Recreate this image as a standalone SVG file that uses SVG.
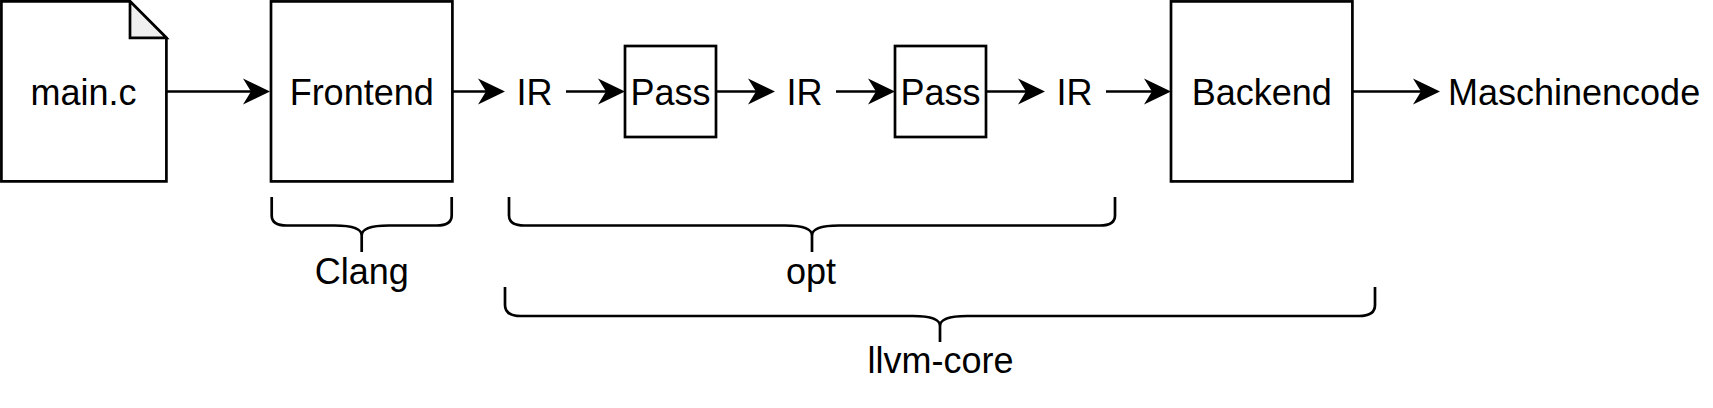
<svg xmlns="http://www.w3.org/2000/svg" width="1713" height="408" viewBox="0 0 1713 408">
  <style>
    .box { fill: #ffffff; stroke: #000000; stroke-width: 2.7; }
    .fold { fill: #efefef; stroke: #000000; stroke-width: 2.7; stroke-linejoin: miter; }
    .lbl { font-family: "Liberation Sans", Arial, sans-serif; font-size: 36px; fill: #000000; text-anchor: middle; }
    .edge { fill: none; stroke: #000000; stroke-width: 2.7; marker-end: url(#arrow); }
    .brace { fill: none; stroke: #000000; stroke-width: 2.7; }
  </style>
  <defs>
    <marker id="arrow" markerUnits="userSpaceOnUse" markerWidth="30" markerHeight="30" viewBox="0 0 30 30" refX="9" refY="15" orient="auto" overflow="visible">
      <path d="M 28 15 L 1 2 L 9 15 L 1 28 Z" fill="#000000"/>
    </marker>
  </defs>
  <rect width="1713" height="408" fill="#ffffff"/>

  <g id="main-c">
    <path class="box" d="M 1.4 1.4 H 130 L 166.4 37.8 V 181.4 H 1.4 Z"/>
    <path class="fold" d="M 130 1.4 V 37.8 H 166.4 Z"/>
    <text class="lbl" x="83.5" y="105">main.c</text>
  </g>

  <g id="frontend">
    <rect class="box" x="271" y="1.4" width="181.4" height="180"/>
    <text class="lbl" x="361.7" y="105">Frontend</text>
  </g>

  <g id="ir1">
    <text class="lbl" x="534.5" y="105">IR</text>
  </g>

  <g id="pass1">
    <rect class="box" x="625" y="46" width="91" height="91"/>
    <text class="lbl" x="670.5" y="105">Pass</text>
  </g>

  <g id="ir2">
    <text class="lbl" x="804.5" y="105">IR</text>
  </g>

  <g id="pass2">
    <rect class="box" x="895" y="46" width="91" height="91"/>
    <text class="lbl" x="940.5" y="105">Pass</text>
  </g>

  <g id="ir3">
    <text class="lbl" x="1074.5" y="105">IR</text>
  </g>

  <g id="backend">
    <rect class="box" x="1171" y="1.4" width="181.4" height="180"/>
    <text class="lbl" x="1261.7" y="105">Backend</text>
  </g>

  <g id="maschinencode">
    <text class="lbl" x="1448" y="105" style="text-anchor:start">Maschinencode</text>
  </g>

  <g id="connectors">
    <line class="edge" x1="166.4" y1="91.5" x2="251" y2="91.5"/>
    <line class="edge" x1="452.4" y1="91.5" x2="486" y2="91.5"/>
    <line class="edge" x1="566" y1="91.5" x2="606" y2="91.5"/>
    <line class="edge" x1="716" y1="91.5" x2="756" y2="91.5"/>
    <line class="edge" x1="836" y1="91.5" x2="876" y2="91.5"/>
    <line class="edge" x1="986" y1="91.5" x2="1026" y2="91.5"/>
    <line class="edge" x1="1106" y1="91.5" x2="1152" y2="91.5"/>
    <line class="edge" x1="1352.4" y1="91.5" x2="1421" y2="91.5"/>
  </g>

  <g id="clang">
    <path class="brace" d="M 271.7 197 V 215.5 Q 271.7 225.5 286.7 225.5 H 334.7 Q 361.7 225.5 361.7 235.5 V 252 M 451.7 197 V 215.5 Q 451.7 225.5 436.7 225.5 H 388.7 Q 361.7 225.5 361.7 235.5"/>
    <text class="lbl" x="361.7" y="284">Clang</text>
  </g>

  <g id="opt">
    <path class="brace" d="M 509 197 V 215.5 Q 509 225.5 524 225.5 H 785 Q 812 225.5 812 235.5 V 252 M 1115 197 V 215.5 Q 1115 225.5 1100 225.5 H 839 Q 812 225.5 812 235.5"/>
    <text class="lbl" x="811" y="284">opt</text>
  </g>

  <g id="llvm-core">
    <path class="brace" d="M 505 287 V 305 Q 505 316 521 316 H 913 Q 940 316 940 326 V 342 M 1375 287 V 305 Q 1375 316 1359 316 H 967 Q 940 316 940 326"/>
    <text class="lbl" x="940.5" y="373">llvm-core</text>
  </g>
</svg>
